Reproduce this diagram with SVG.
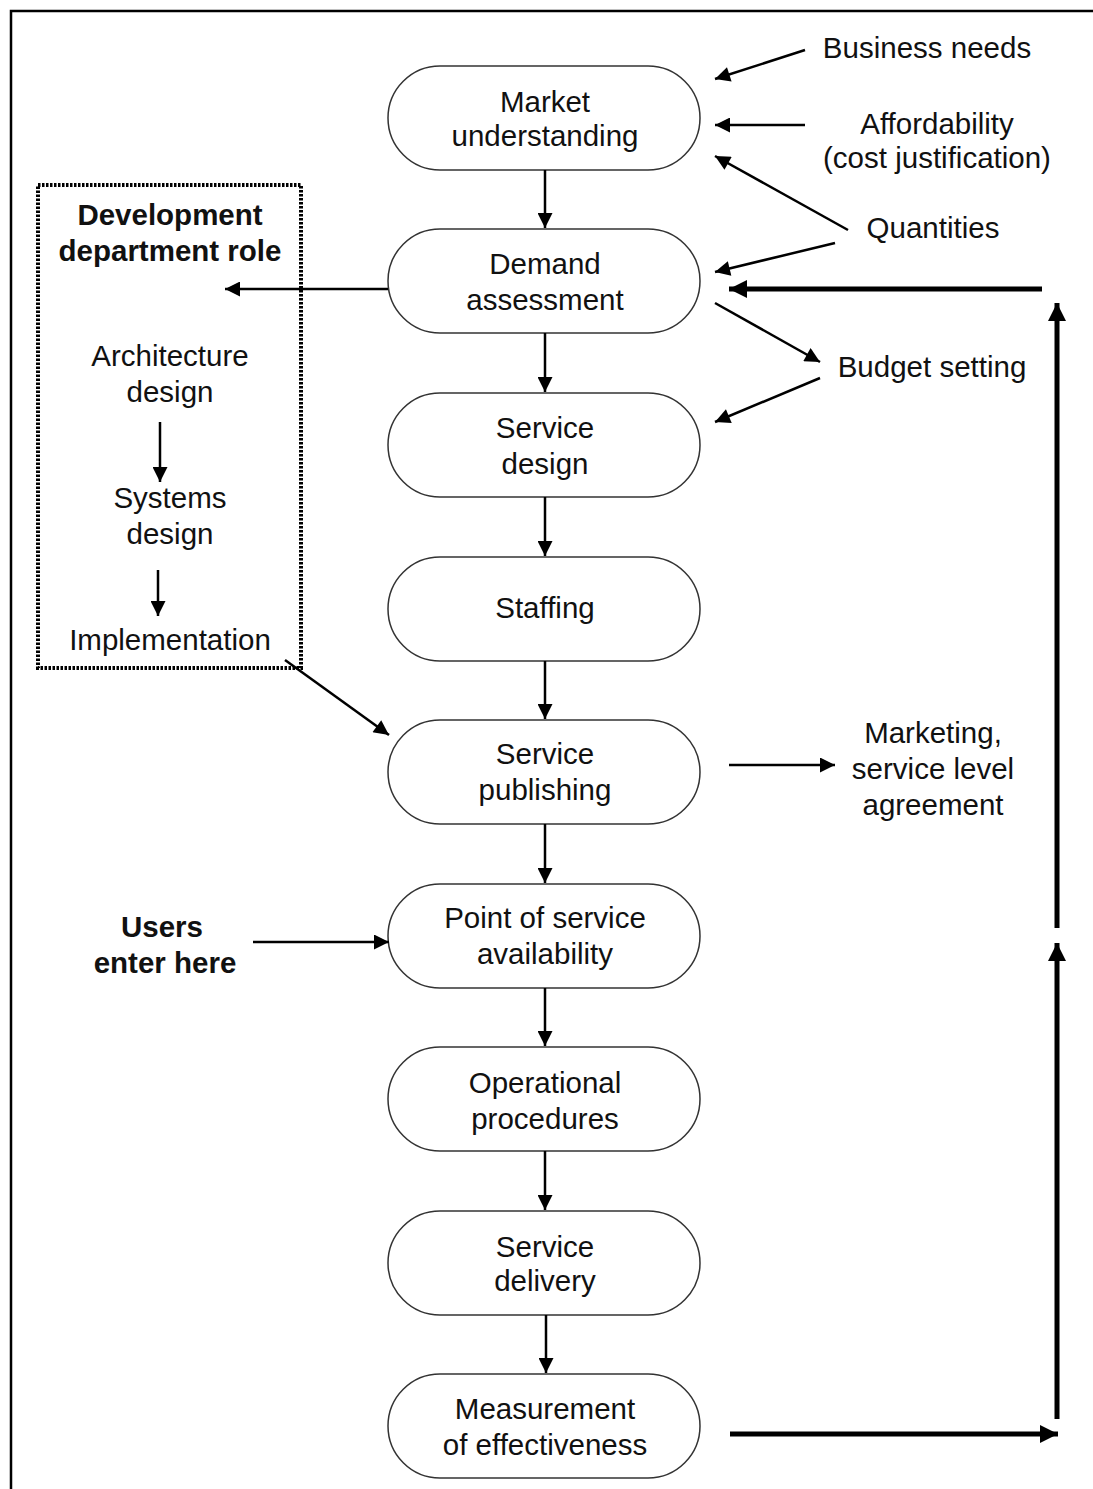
<svg xmlns="http://www.w3.org/2000/svg" width="1093" height="1489" viewBox="0 0 1093 1489">
<defs>
<style>
.n{fill:#fff;stroke:#333;stroke-width:1.5}
.t{font-family:"Liberation Sans",Arial,sans-serif;font-size:29.5px;fill:#111;text-anchor:middle}
.b{font-weight:bold}
.c{stroke:#000;stroke-width:2.5;fill:none}
.k{stroke:#000;stroke-width:5;fill:none}
</style>
<marker id="ah" viewBox="0 0 10 10" refX="10" refY="5" markerWidth="22" markerHeight="18" markerUnits="userSpaceOnUse" orient="auto"><path d="M0,0L10,5L0,10z" fill="#000"/></marker>
<marker id="as" viewBox="0 0 10 10" refX="10" refY="5" markerWidth="18" markerHeight="15" markerUnits="userSpaceOnUse" orient="auto"><path d="M0,0L10,5L0,10z" fill="#000"/></marker>
</defs>
<rect width="1093" height="1489" fill="#fff"/>
<rect x="11" y="11" width="1100" height="1500" fill="none" stroke="#000" stroke-width="2.5"/>

<g id="dev-box">
<rect x="38" y="185" width="263" height="483" fill="none" stroke="#000" stroke-width="4" stroke-dasharray="2.5 1.5"/>
<text class="t b" x="170" y="225">Development</text>
<text class="t b" x="170" y="261">department role</text>
<text class="t" x="170" y="366">Architecture</text>
<text class="t" x="170" y="402">design</text>
<text class="t" x="170" y="508">Systems</text>
<text class="t" x="170" y="544">design</text>
<text class="t" x="170" y="650">Implementation</text>
</g>

<g id="n1"><rect class="n" x="388" y="66" width="312" height="104" rx="52"/><text class="t" x="545" y="112">Market</text><text class="t" x="545" y="146">understanding</text></g>
<g id="n2"><rect class="n" x="388" y="229" width="312" height="104" rx="52"/><text class="t" x="545" y="274">Demand</text><text class="t" x="545" y="310">assessment</text></g>
<g id="n3"><rect class="n" x="388" y="393" width="312" height="104" rx="52"/><text class="t" x="545" y="438">Service</text><text class="t" x="545" y="474">design</text></g>
<g id="n4"><rect class="n" x="388" y="557" width="312" height="104" rx="52"/><text class="t" x="545" y="618">Staffing</text></g>
<g id="n5"><rect class="n" x="388" y="720" width="312" height="104" rx="52"/><text class="t" x="545" y="764">Service</text><text class="t" x="545" y="800">publishing</text></g>
<g id="n6"><rect class="n" x="388" y="884" width="312" height="104" rx="52"/><text class="t" x="545" y="928">Point of service</text><text class="t" x="545" y="964">availability</text></g>
<g id="n7"><rect class="n" x="388" y="1047" width="312" height="104" rx="52"/><text class="t" x="545" y="1093">Operational</text><text class="t" x="545" y="1129">procedures</text></g>
<g id="n8"><rect class="n" x="388" y="1211" width="312" height="104" rx="52"/><text class="t" x="545" y="1257">Service</text><text class="t" x="545" y="1291">delivery</text></g>
<g id="n9"><rect class="n" x="388" y="1374" width="312" height="104" rx="52"/><text class="t" x="545" y="1419">Measurement</text><text class="t" x="545" y="1455">of effectiveness</text></g>

<g id="labels">
<text class="t" x="927" y="58">Business needs</text>
<text class="t" x="937" y="134">Affordability</text>
<text class="t" x="937" y="168">(cost justification)</text>
<text class="t" x="933" y="238">Quantities</text>
<text class="t" x="932" y="377">Budget setting</text>
<text class="t" x="933" y="743">Marketing,</text>
<text class="t" x="933" y="779">service level</text>
<text class="t" x="933" y="815">agreement</text>
<text class="t b" x="162" y="937">Users</text>
<text class="t b" x="165" y="973">enter here</text>
</g>

<g id="connectors">
<line class="c" x1="545" y1="170" x2="545" y2="228" marker-end="url(#as)"/>
<line class="c" x1="545" y1="333" x2="545" y2="392" marker-end="url(#as)"/>
<line class="c" x1="545" y1="497" x2="545" y2="556" marker-end="url(#as)"/>
<line class="c" x1="545" y1="661" x2="545" y2="719" marker-end="url(#as)"/>
<line class="c" x1="545" y1="824" x2="545" y2="883" marker-end="url(#as)"/>
<line class="c" x1="545" y1="988" x2="545" y2="1046" marker-end="url(#as)"/>
<line class="c" x1="545" y1="1151" x2="545" y2="1210" marker-end="url(#as)"/>
<line class="c" x1="546" y1="1315" x2="546" y2="1373" marker-end="url(#as)"/>
<line class="c" x1="160" y1="422" x2="160" y2="482" marker-end="url(#as)"/>
<line class="c" x1="158" y1="570" x2="158" y2="616" marker-end="url(#as)"/>
<line class="c" x1="388" y1="289" x2="225" y2="289" marker-end="url(#as)"/>
<line class="c" x1="285" y1="660" x2="389" y2="735" marker-end="url(#as)"/>
<line class="c" x1="805" y1="50" x2="715" y2="79" marker-end="url(#as)"/>
<line class="c" x1="805" y1="125" x2="715" y2="125" marker-end="url(#as)"/>
<line class="c" x1="848" y1="230" x2="715" y2="156" marker-end="url(#as)"/>
<line class="c" x1="835" y1="243" x2="715" y2="272" marker-end="url(#as)"/>
<line class="c" x1="715" y1="303" x2="820" y2="362" marker-end="url(#as)"/>
<line class="c" x1="820" y1="378" x2="715" y2="422" marker-end="url(#as)"/>
<line class="c" x1="729" y1="765" x2="835" y2="765" marker-end="url(#as)"/>
<line class="c" x1="253" y1="942" x2="389" y2="942" marker-end="url(#as)"/>
<line class="k" x1="1042" y1="289" x2="729" y2="289" marker-end="url(#ah)"/>
<line class="k" x1="1057" y1="928" x2="1057" y2="303" marker-end="url(#ah)"/>
<line class="k" x1="1057" y1="1419" x2="1057" y2="943" marker-end="url(#ah)"/>
<line class="k" x1="730" y1="1434" x2="1058" y2="1434" marker-end="url(#ah)"/>
</g>
</svg>
